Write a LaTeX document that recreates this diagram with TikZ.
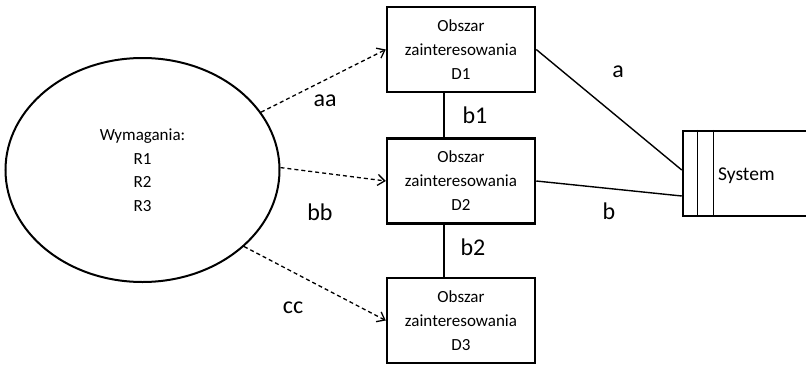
\documentclass[tikz,border=0pt]{standalone}
\usepackage{fontspec}
\setmainfont{Carlito}
\usetikzlibrary{shapes.geometric,arrows.meta,calc}

\tikzset{
  areabox/.style={draw, line width=2.5pt, rectangle, minimum width=148pt,
    minimum height=85pt, align=center, inner sep=0pt,
    font=\fontsize{17}{24}\selectfont},
  reqshape/.style={draw, line width=2pt, ellipse, minimum width=274pt,
    minimum height=224pt, align=center, inner sep=0pt,
    font=\fontsize{17}{23.5}\selectfont},
  sysbox/.style={draw, line width=2.5pt, rectangle, minimum width=147pt,
    minimum height=85pt, inner sep=0pt},
  link/.style={line width=1.4pt},
  dep/.style={line width=1.3pt, dash pattern=on 4pt off 3pt,
    -{Straight Barb[length=7pt,width=11pt]}},
  lbl/.style={font=\fontsize{24}{28}\selectfont, inner sep=0pt},
}

\begin{document}
\begin{tikzpicture}[x=1pt,y=-1pt]
\clip (0,0) rectangle (806,367);

% requirements ellipse
\node[reqshape] (req) at (142.5,170) {Wymagania:\\R1\\R2\\R3};

% areas of interest
\node[areabox] (d1) at (461,49.5) {Obszar\\zainteresowania\\D1};
\node[areabox] (d2) at (461,181) {Obszar\\zainteresowania\\D2};
\node[areabox] (d3) at (461,320.5) {Obszar\\zainteresowania\\D3};

% system box, running off the right edge
\node[sysbox] (sys) at (756.5,173.5) {};
\draw[link] ($(sys.north west)+(16,0)$) -- ($(sys.south west)+(16,0)$);
\draw[link] ($(sys.north west)+(32,0)$) -- ($(sys.south west)+(32,0)$);
\node[anchor=west, inner sep=0pt, font=\fontsize{19.5}{23}\selectfont] (systxt) at (718,176) {System};

% dependencies from the requirements
\draw[dep] (req.26) -- (d1.west);
\draw[dep] (req.1) -- (d2.west);
\draw[dep] (req.-37) -- (d3.west);

% links between areas and to the system
\draw[link] ($(d1.south)+(-17,0)$) -- ($(d2.north)+(-17,0)$);
\draw[link] ($(d2.south)+(-17,0)$) -- ($(d3.north)+(-17,0)$);
\coordinate (sa) at ($(sys.west)+(0,-3.5)$);
\coordinate (sb) at ($(sys.west)+(0,22.5)$);
\draw[link] (d1.east) -- (sa);
\draw[link] (d2.east) -- (sb);

% labels
\node[lbl] (la) at (618,72) {a};
\node[lbl] (lb) at (609,211) {b};
\node[lbl] (lb1) at (475,115) {b1};
\node[lbl] (lb2) at (473,247) {b2};
\node[lbl] (laa) at (325,101) {aa};
\node[lbl] (lbb) at (320,212) {bb};
\node[lbl] (lcc) at (293,308) {cc};
\end{tikzpicture}
\end{document}
